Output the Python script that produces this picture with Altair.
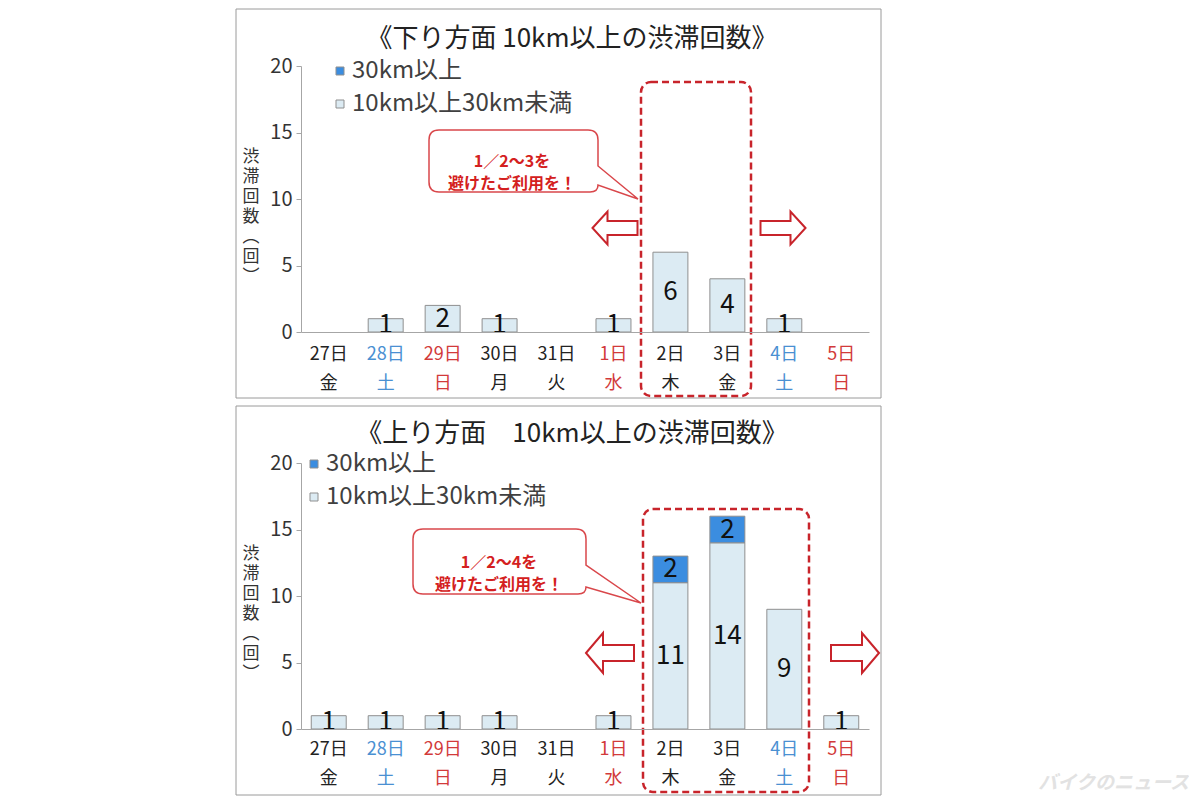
import altair as alt
import pandas as pd

# ---------------- data ----------------
days = ["27日", "28日", "29日", "30日", "31日", "1日", "2日", "3日", "4日", "5日"]
weekdays = ["金", "土", "日", "月", "火", "水", "木", "金", "土", "日"]
day_colors = ["#222222", "#4a90d2", "#d23a3a", "#222222", "#222222",
              "#d23a3a", "#222222", "#222222", "#4a90d2", "#d23a3a"]
series = ["30km以上", "10km以上30km未満"]
series_colors = ["#3b8de0", "#dcebf3"]

down_over30 = [0, 0, 0, 0, 0, 0, 0, 0, 0, 0]
down_under30 = [0, 1, 2, 1, 0, 1, 6, 4, 1, 0]
up_over30 = [0, 0, 0, 0, 0, 0, 2, 2, 0, 0]
up_under30 = [1, 1, 1, 1, 0, 1, 11, 14, 9, 1]

y_ticks = [0, 5, 10, 15, 20]
titles = ["《下り方面 10km以上の渋滞回数》", "《上り方面　10km以上の渋滞回数》"]
callout_lines = [["1／2～3を", "避けたご利用を！"], ["1／2～4を", "避けたご利用を！"]]
y_title_chars = ["渋", "滞", "回", "数", "︵", "回", "︶"]

# ---------------- style ----------------
W, H = 568, 266
CJK = "Noto Sans CJK JP, Noto Sans, sans-serif"
NUM = "Liberation Sans Narrow, Noto Sans CJK JP, sans-serif"
RED = "#c8242b"
AXIS_GRAY = "#a6a6a6"

one = pd.DataFrame({"k": [0]})


def bar_table(under, over):
    rows = []
    for d, u, o in zip(days, under, over):
        if u > 0:
            rows.append({"day": d, "series": series[1], "value": u, "y0": 0, "y1": u})
        if o > 0:
            rows.append({"day": d, "series": series[0], "value": o, "y0": u, "y1": u + o})
    df = pd.DataFrame(rows)
    df["mid"] = (df["y0"] + df["y1"]) / 2
    return df


def arrow_path(hw, hh, head, shaft, direction):
    s = 1 if direction == "right" else -1
    pts = [(s * hw, 0), (s * (hw - head), -hh), (s * (hw - head), -shaft), (-s * hw, -shaft),
           (-s * hw, shaft), (s * (hw - head), shaft), (s * (hw - head), hh)]
    return "M " + " L ".join(f"{x} {y}" for x, y in pts) + " Z"


def callout_path(x0, x1, y0, y1, tail_y, tip, ret_y, r=10):
    tx, ty = tip
    return (f"M {x0 + r} {y0} L {x1 - r} {y0} Q {x1} {y0} {x1} {y0 + r} "
            f"L {x1} {tail_y} L {tx} {ty} L {x1} {ret_y} Q {x1} {y1} {x1 - 8} {y1} "
            f"L {x0 + r} {y1} Q {x0} {y1} {x0} {y1 - r} L {x0} {y0 + r} Q {x0} {y0} {x0 + r} {y0} Z")


xs = alt.Scale(domain=days, paddingInner=0.386, paddingOuter=0.18)
ys = alt.Scale(domain=[0, 20], nice=False)
x_axis = alt.Axis(title=None, labels=False, ticks=False, domainColor=AXIS_GRAY, grid=False,
                  zindex=1)
y_axis = alt.Axis(title=None, values=y_ticks, tickSize=5, tickColor=AXIS_GRAY,
                  domainColor=AXIS_GRAY, labelFont=NUM, labelFontSize=20,
                  labelColor="#333333", labelPadding=4, grid=False, zindex=1)


def panel(under, over, title, callout, g):
    df = bar_table(under, over)
    xl_df = pd.DataFrame({"day": days,
                          "label": [f"{d}\n{w}" for d, w in zip(days, weekdays)],
                          "color": day_colors})

    border = alt.Chart(one).mark_rect(fillOpacity=0, stroke="#9a9a9a", strokeWidth=1).encode(
        x=alt.value(-65), x2=alt.value(580), y=alt.value(-57), y2=alt.value(332))

    bx0, bx1, by0, by1 = g["box"]
    dashed = alt.Chart(one).mark_rect(fillOpacity=0, stroke=RED, strokeWidth=2.5,
                                      strokeDash=[7, 4], cornerRadius=10).encode(
        x=alt.value(bx0), x2=alt.value(bx1), y=alt.value(by0), y2=alt.value(by1))

    bubble = alt.Chart(one).mark_point(shape=g["callout"], size=4, filled=True, fill="white",
                                       stroke="#d9474b", strokeWidth=1.5, opacity=1).encode(
        x=alt.value(0), y=alt.value(0))
    bubble_text = alt.Chart(one).mark_text(text=callout, font=CJK, fontSize=16, fontWeight="bold",
                                           color="#d42020", lineHeight=22, align="center",
                                           baseline="middle").encode(
        x=alt.value(g["ctext"][0]), y=alt.value(g["ctext"][1]))

    arrows = []
    for (cx, cy), path in g["arrows"]:
        arrows.append(alt.Chart(one).mark_point(shape=path, size=4, filled=True, fill="white",
                                                stroke=RED, strokeWidth=2, opacity=1).encode(
            x=alt.value(cx), y=alt.value(cy)))

    bars = alt.Chart(df).mark_bar(stroke="#8f8f8f", strokeWidth=1).encode(
        x=alt.X("day:N", scale=xs, sort=days, axis=x_axis),
        y=alt.Y("y0:Q", scale=ys, axis=y_axis),
        y2="y1:Q",
        color=alt.Color("series:N", scale=alt.Scale(domain=series, range=series_colors),
                        legend=alt.Legend(orient="none", legendX=g["legend"][0],
                                          legendY=g["legend"][1], title=None,
                                          symbolType="square", symbolSize=64,
                                          symbolStrokeColor="#8f8f8f", symbolStrokeWidth=1,
                                          labelFont=CJK, labelFontSize=24, labelLimit=400,
                                          labelColor="#404040", rowPadding=9,
                                          labelOffset=0, padding=0)),
    )

    nums = alt.Chart(df).mark_text(font=NUM, fontSize=26, color="#111111",
                                   baseline="middle").encode(
        x=alt.X("day:N", scale=xs, sort=days, axis=x_axis),
        y=alt.Y("mid:Q", scale=ys, axis=y_axis),
        text="value:Q")

    xlabels = alt.Chart(xl_df).mark_text(font=NUM, fontSize=18, lineBreak="\n", lineHeight=29,
                                         baseline="top").encode(
        x=alt.X("day:N", scale=xs, sort=days, axis=x_axis),
        y=alt.value(H + g["xlab"]),
        text="label:N",
        fill=alt.Fill("color:N", scale=None))

    ttl = alt.Chart(one).mark_text(text=title, font=CJK, fontSize=26, color="#222222",
                                   align="center", baseline="middle").encode(
        x=alt.value(271), y=alt.value(g["title_y"]))

    ytitle = alt.Chart(one).mark_text(text=y_title_chars, font=CJK, fontSize=17, lineHeight=20,
                                      color="#333333", align="center", baseline="top").encode(
        x=alt.value(-50), y=alt.value(83))

    layers = [border, dashed, bubble, bubble_text] + arrows + [bars, nums, xlabels, ttl, ytitle]
    if g.get("watermark"):
        layers.append(alt.Chart(one).mark_text(text="バイクのニュース", font=CJK, fontSize=19,
                                               fontStyle="italic", fontWeight="bold",
                                               color="#e2e2e2", align="right",
                                               baseline="middle").encode(
            x=alt.value(888), y=alt.value(320)))
    return alt.layer(*layers).properties(width=W, height=H)


g1 = {
    "box": (340, 450, 16, 330),
    "callout": callout_path(128, 297, 64, 126, 100, (337, 133), 119),
    "ctext": (211, 95.5),
    "arrows": [((314, 162), arrow_path(22.5, 16.5, 15, 7, "left")),
               ((482, 162), arrow_path(22.5, 16.5, 15, 7, "right"))],
    "legend": (27, -7),
    "xlab": 14,
    "title_y": -27,
}
g2 = {
    "box": (342, 508, 46, 329),
    "callout": callout_path(112, 285, 66, 131, 102, (340, 140), 124),
    "ctext": (198, 99.5),
    "arrows": [((309, 190), arrow_path(24, 20, 17, 8, "left")),
               ((554, 190), arrow_path(24, 20, 17, 8, "right"))],
    "legend": (1, -11),
    "xlab": 12,
    "title_y": -29,
    "watermark": True,
}

p1 = panel(down_under30, down_over30, titles[0], callout_lines[0], g1)
p2 = panel(up_under30, up_over30, titles[1], callout_lines[1], g2)

chart = alt.vconcat(p1, p2, spacing=6).resolve_scale(color="independent").properties(
    padding={"left": 227, "top": 0, "right": 0, "bottom": 0},
    background="white",
).configure_view(strokeWidth=0)

chart.save("out.html", embed_options={"renderer": "svg", "actions": False})
